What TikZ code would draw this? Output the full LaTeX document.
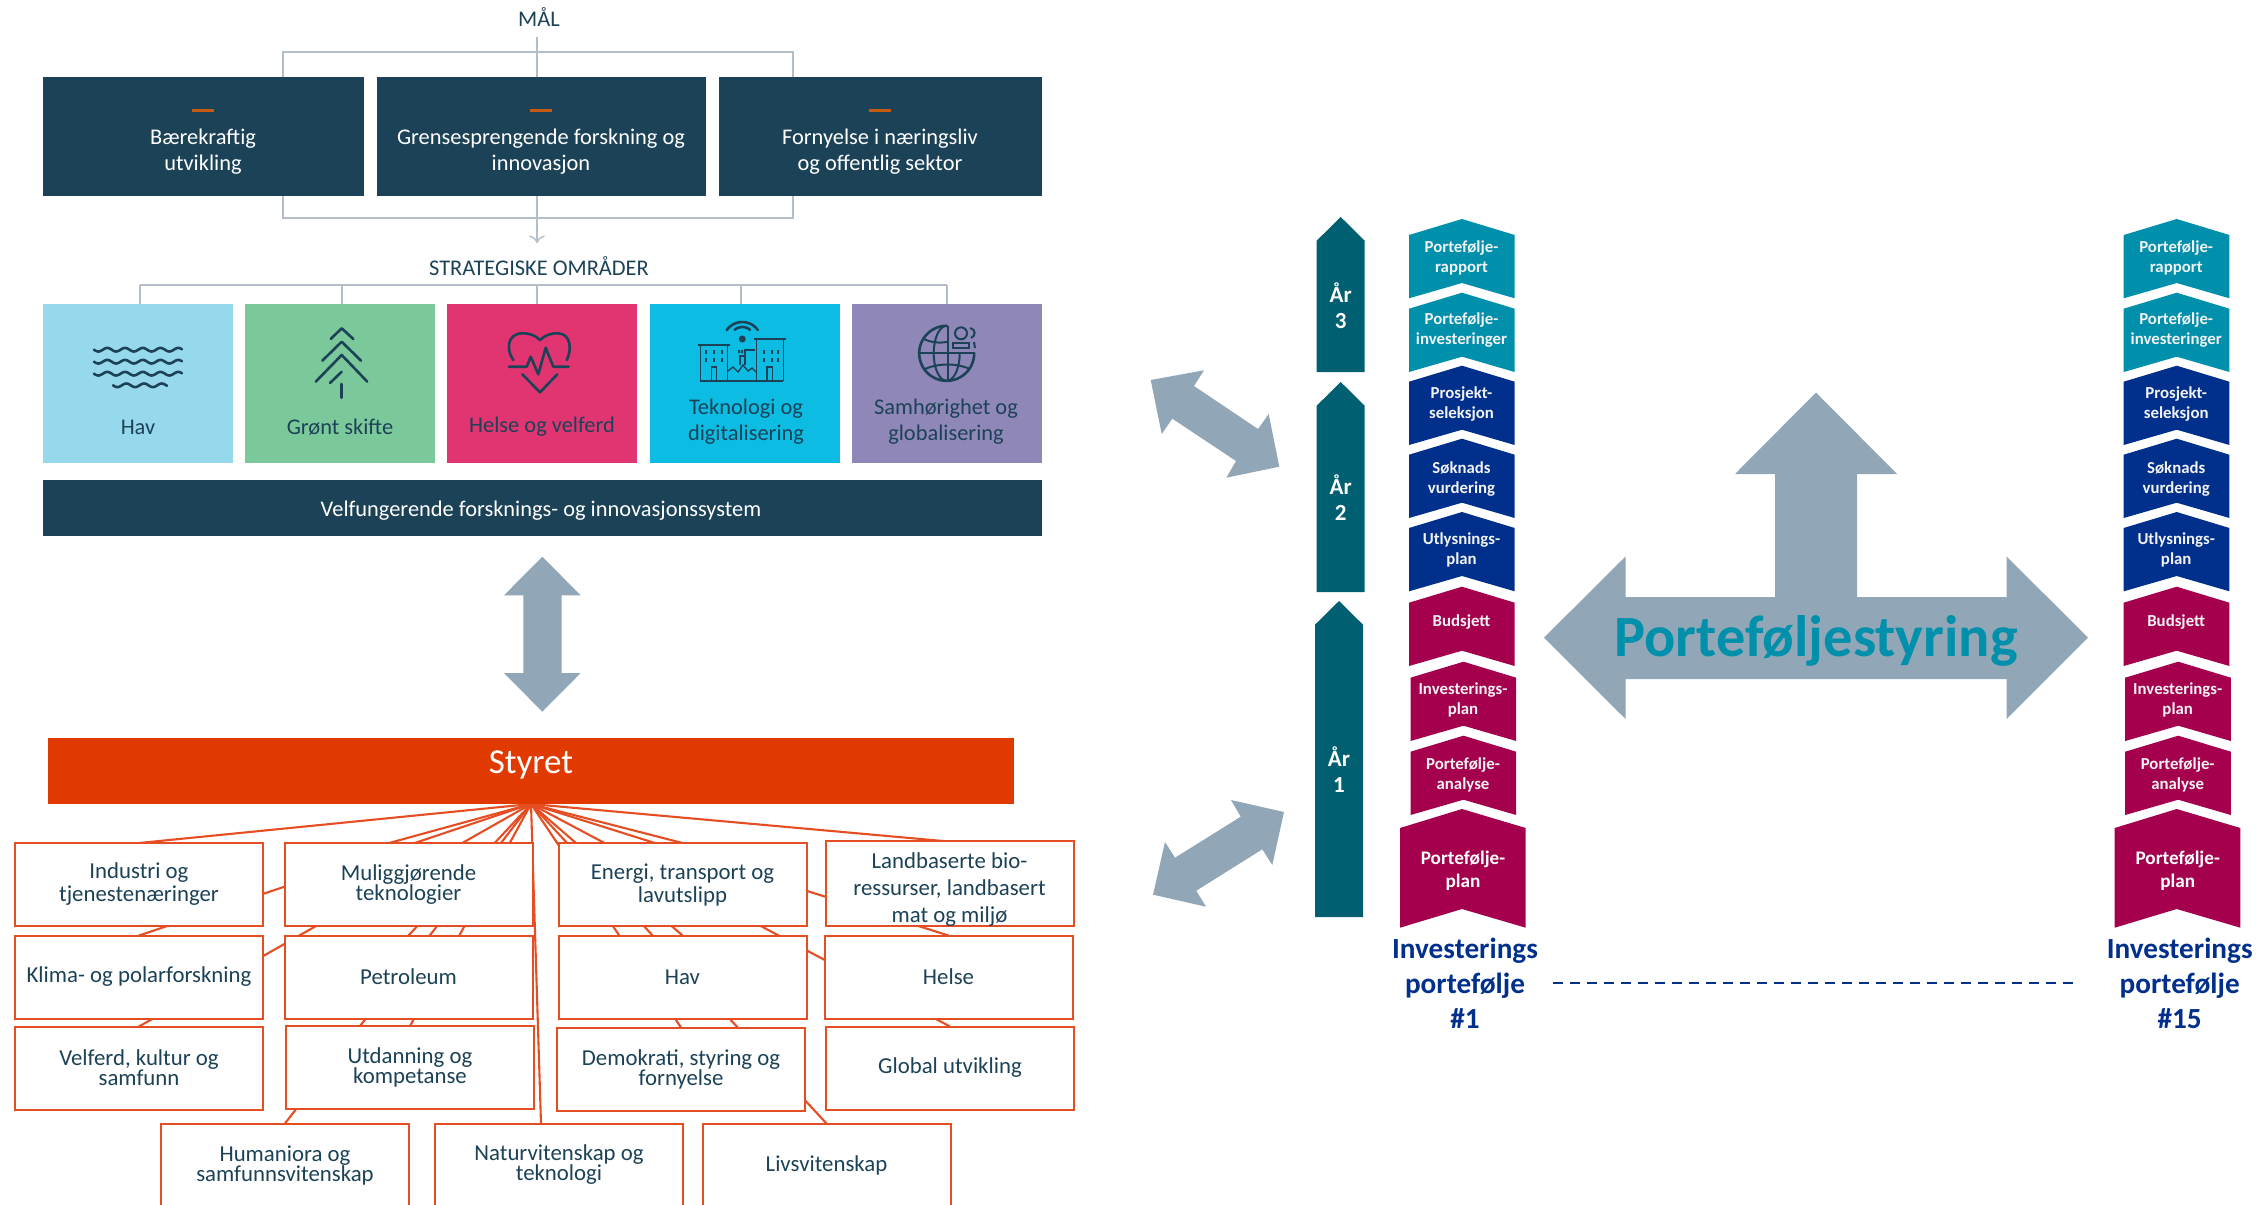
\documentclass[tikz,border=0pt]{standalone}
\usepackage{fontspec}
\setmainfont{Carlito}
\usetikzlibrary{arrows.meta,backgrounds}
\definecolor{deepblue}{HTML}{1C4257}
\definecolor{accent}{HTML}{C55A11}
\definecolor{bracket}{HTML}{B3BEC9}
\definecolor{bigarrow}{HTML}{91A7B7}
\definecolor{board}{HTML}{E03A00}
\definecolor{boardline}{HTML}{E54E22}
\definecolor{yearteal}{HTML}{005F70}
\definecolor{foldteal}{HTML}{0090AB}
\definecolor{foldnavy}{HTML}{00308C}
\definecolor{foldred}{HTML}{A5004E}
\newcommand\tipscale{1.2}
\newcommand\folderdx{714.7}
\tikzset{
    bodyfont/.style={font=\fontsize{11.2}{13.3}\selectfont},
    goalbox/.style={fill=deepblue,minimum height=59.75pt,inner sep=0pt,outer sep=0pt},
    goaltext/.style={bodyfont,text=white,align=center},
    areabox/.style={minimum width=95pt,minimum height=79.5pt,inner sep=0pt,outer sep=0pt},
    areatext/.style={bodyfont,text=deepblue,align=center},
    headtext/.style={font=\fontsize{11.2}{13}\selectfont,text=deepblue},
    connline/.style={draw=bracket,line width=0.7pt},
    orgbox/.style={draw=boardline,fill=white,line width=1pt,minimum width=124pt,minimum height=41.5pt,
      inner sep=0pt,outer sep=0pt,text=deepblue,align=center,font=\fontsize{11.4}{10}\selectfont},
    fanline/.style={draw=boardline,line width=1.05pt},
    yeartext/.style={font=\bfseries\fontsize{11.5}{13}\selectfont,text=white,align=center},
    foldertext/.style={font=\bfseries\fontsize{8.4}{10}\selectfont,text=white!90!gray,align=center},
    plantext/.style={font=\bfseries\fontsize{9.6}{11.5}\selectfont,text=white,align=center},
    porttext/.style={font=\bfseries\fontsize{14.6}{17.5}\selectfont,text=foldnavy,align=center},
    iconline/.style={draw=deepblue,line width=1.3pt,line cap=round,line join=round},
    iconthin/.style={draw=deepblue,line width=0.7pt},
}
\begin{document}
\begin{tikzpicture}[x=0.5pt,y=-0.5pt]
    \useasboundingbox (0,0) rectangle (2266,1205);

    \node[headtext] (mal) at (539,17) {MÅL};
    \node[goalbox,minimum width=160.5pt] (g1) at (203.5,136.7) {};
    \node[goalbox,minimum width=164.5pt] (g2) at (541.5,136.7) {};
    \node[goalbox,minimum width=161.5pt] (g3) at (880.5,136.7) {};
    \node[goaltext] (g1text) at (203,151.5) {Bærekraftig\\utvikling};
    \node[goaltext] (g2text) at (541,151.5) {Grensesprengende forskning og\\innovasjon};
    \node[goaltext] (g3text) at (880,151.5) {Fornyelse i næringsliv\\og offentlig sektor};
    \foreach \x in {203,541,880}
      \draw[accent,line width=1.3pt] (\x-11,110.7) -- (\x+11,110.7);

    \coordinate (stemtop) at (537,37);
    \coordinate (barleft) at (283,52);
    \coordinate (barright) at (793,52);
    \coordinate (lowleft) at (283,218);
    \coordinate (lowright) at (793,218);
    \coordinate (stemend) at (537,243);
    \draw[connline] (g1.north -| barleft) -- (barleft) -- (barright) -- (g3.north -| barright);
    \draw[connline] (stemtop) -- (g2.north -| stemtop);
    \draw[connline] (g1.south -| lowleft) -- (lowleft) -- (lowright) -- (g3.south -| lowright);
    \draw[connline,-{>[scale=\tipscale]}] (g2.south -| stemend) -- (stemend);

    \node[headtext] (omr) at (539,266) {STRATEGISKE OMRÅDER};
    \node[areabox,fill={rgb,255:red,151;green,217;blue,236}] (a1) at (138,383) {};
    \node[areabox,fill={rgb,255:red,123;green,200;blue,154}] (a2) at (340,383) {};
    \node[areabox,fill={rgb,255:red,224;green,53;blue,112}] (a3) at (542,383) {};
    \node[areabox,fill={rgb,255:red,13;green,188;blue,226}] (a4) at (745,383) {};
    \node[areabox,fill={rgb,255:red,143;green,135;blue,184}] (a5) at (947,383) {};
    \node[areatext] (a1text) at (138,427) {Hav};
    \node[areatext] (a2text) at (340,427) {Grønt skifte};
    \node[areatext] (a3text) at (542,427) {Helse og velferd};
    \node[areatext] (a4text) at (746,421.5) {Teknologi og\\digitalisering};
    \node[areatext] (a5text) at (946,421.5) {Samhørighet og\\globalisering};
    \draw[connline] (140,285) -- (947,285);
    \foreach \n/\x in {a1/140,a2/342,a3/537,a4/741,a5/947}
      \draw[connline] (\x,285) -- (\n.north -| \x,0);

    \node[goalbox,minimum width=499.5pt,minimum height=28pt] (system) at (542.5,508) {};
    \node[goaltext] (systemtext) at (541,510.5) {Velfungerende forsknings- og innovasjonssystem};

    % waves
    \foreach \yw in {349.7,361.7,373.7}
      \draw[iconline] plot[domain=94:182,samples=70] (\x,{\yw+1.8*sin(20.3*(\x-94))});
    \draw[iconline] plot[domain=113:167,samples=50] (\x,{385.3+1.8*sin(20.3*(\x-113))});
    % tree
    \draw[iconline] (330.7,339) -- (341.7,328.3) -- (353.3,339);
    \draw[iconline] (322.3,360.7) -- (341.7,341.7) -- (361,360.7);
    \draw[iconline] (315.7,381.7) -- (341.7,355) -- (367.3,381.7);
    \draw[iconline] (330,383) -- (341.7,371.7);
    \draw[iconline] (341.7,384) -- (341.7,397.7);
    % heart
    \draw[iconline] (513.3,360) .. controls (506,350) and (507,334) .. (521.7,333.3)
      .. controls (530,333) and (536,336) .. (540,340)
      .. controls (544,336) and (550,333) .. (558.3,333.3)
      .. controls (571,334) and (572,350) .. (566.7,360);
    \draw[iconline] (509,366.7) -- (526.7,366.7) -- (530.7,356.7) -- (538.3,374.3)
      -- (545.7,347.7) -- (553.3,366.7) -- (568.5,366.7);
    \draw[iconline] (522.3,374.3) -- (540,392.3) -- (557.3,374.3);
    % buildings
    \draw[iconthin,line width=1pt] (698.3,345) -- (730,345);
    \draw[iconthin,line width=1pt] (754,339.3) -- (785.7,339.3);
    \draw[iconthin,line width=1pt] (700,381) -- (783.3,381);
    \draw[iconthin] (700.7,345) -- (700.7,381) (727.7,345) -- (727.7,381);
    \draw[iconthin] (756.7,339.3) -- (756.7,381) (783.3,339.3) -- (783.3,381);
    \draw[iconthin] (711.5,381) -- (711.5,367) -- (716.7,367) -- (716.7,381);
    \draw[iconthin] (767,381) -- (767,367) -- (772.5,367) -- (772.5,381);
    \draw[iconthin] (728,371) -- (733,367) -- (738,372) -- (743,365) -- (748,371) -- (752,368) -- (756,372);
    \draw[iconthin] (740,365) -- (740,356) -- (746,356) (745,365) -- (745,350) -- (755,350);
    \foreach \wx in {706,714,722,764,772,778}
      \foreach \wy in {352,360}
        \fill[deepblue] (\wx-1,\wy-2) rectangle (\wx+1,\wy+2);
    \fill[deepblue] (738,350) rectangle (740,353) (741,350) rectangle (743,353);
    \fill[deepblue] (742.3,339) circle (3.5);
    \draw[iconline] plot[domain=50:130,samples=12] ({742.3+12*cos(\x)},{339-12*sin(\x)});
    \draw[iconline] plot[domain=35:145,samples=14] ({742.3+19*cos(\x)},{341-19*sin(\x)});
    % globe
    \draw[iconline] plot[domain=90:360,samples=50] ({946.7+27.5*cos(\x)},{353.3-27.5*sin(\x)});
    \draw[iconthin,line width=1pt] (919,353.3) -- (975,353.3) (947.5,326) -- (947.5,381);
    \draw[iconthin,line width=1pt] plot[domain=-90:90,samples=24] ({946.7-13*cos(\x)},{353.3+27.5*sin(\x)});
    \draw[iconthin,line width=1pt] plot[domain=0:90,samples=12] ({946.7+13*cos(\x)},{353.3+27.5*sin(\x)});
    \draw[iconthin,line width=1pt] (924,339) .. controls (932,343) and (940,343) .. (947,342);
    \draw[iconthin,line width=1pt] (925,369) .. controls (938,363) and (957,363) .. (970,369);
    \draw[iconthin,line width=1pt] (961,333.3) circle (6);
    \draw[iconthin,line width=1pt] (953.3,348.3) -- (953.3,343) -- (969.3,343) -- (969.3,348.3) -- cycle;
    \draw[iconthin,line width=1pt] (970,328) .. controls (976,329) and (976,336) .. (971,338);
    \draw[iconthin,line width=1pt] (974,342) -- (975,348);

    \fill[bigarrow] (542.3,556.7) -- (580.7,595.3) -- (561.7,595.3) -- (561.7,673) -- (580.7,673)
      -- (542.3,711.7) -- (504,673) -- (523.3,673) -- (523.3,595.3) -- (504,595.3) -- cycle;

    \node[fill=board,minimum width=483pt,minimum height=33pt,inner sep=0pt,outer sep=0pt] (styret) at (531,771) {};
    \node[font=\fontsize{17.5}{19}\selectfont,text=white] (styrettext) at (531,765) {Styret};

    \node[orgbox] (ind) at (139,884.5) {Industri og\\[1.5pt]tjenestenæringer};
    \node[orgbox] (mul) at (408.5,884.5) {Muliggjørende\\teknologier};
    \node[orgbox] (ene) at (682.5,884.5) {Energi, transport og\\[1.5pt]lavutslipp};
    \node[orgbox] (lan) at (949.5,883.5) {\rule{0pt}{13.5pt}Landbaserte bio-\\[3.5pt]ressurser, landbasert\\[3.5pt]mat og miljø};
    \node[orgbox] (kli) at (139,977) {Klima- og polarforskning};
    \node[orgbox] (pet) at (408.5,977) {Petroleum};
    \node[orgbox] (hav) at (682.5,977) {Hav};
    \node[orgbox] (hel) at (948.5,977) {Helse};
    \node[orgbox] (vel) at (139,1068) {Velferd, kultur og\\samfunn};
    \node[orgbox] (utd) at (410,1067.5) {Utdanning og\\kompetanse};
    \node[orgbox] (dem) at (681,1069) {Demokrati, styring og\\fornyelse};
    \node[orgbox] (glo) at (950,1068) {Global utvikling};
    \node[orgbox] (hum) at (285,1165) {Humaniora og\\samfunnsvitenskap};
    \node[orgbox] (nat) at (559,1165) {Naturvitenskap og\\teknologi};
    \node[orgbox] (liv) at (826.5,1165) {Livsvitenskap};

    \begin{scope}[on background layer]
      \foreach \n in {ind,ene,kli,pet,hav,hel,vel,utd,dem,glo,hum,liv}
        \draw[fanline] (styret.south) -- (\n.north);
      \draw[fanline] (styret.south) -- ([xshift=-9.7pt]mul.north);
      \draw[fanline] (styret.south) -- ([xshift=-3pt]lan.north);
      \draw[fanline] (styret.south) -- ([xshift=-9pt]nat.north);
    \end{scope}

    \fill[bigarrow] (1150.7,380) -- (1204,370.3) -- (1194,386) -- (1258,429) -- (1268.7,414)
      -- (1279.3,466.7) -- (1226.3,477.7) -- (1236,461) -- (1172.3,418.7) -- (1161.7,434) -- cycle;
    \fill[bigarrow] (1284,812) -- (1231,800) -- (1240.7,816.7) -- (1175,857.7) -- (1165,842)
      -- (1153,894.7) -- (1206,906.7) -- (1196.3,890.7) -- (1262.3,849.3) -- (1272.3,865) -- cycle;

    \foreach \yr/\lf/\tp/\bt/\ty in {3/1316.7/217/372/306,2/1316.7/382/592/498,1/1315/601/917/770} {
      \fill[yearteal] (\lf,\bt) -- (\lf,\tp+23.7) -- (\lf+24,\tp) -- (\lf+48,\tp+23.7) -- (\lf+48,\bt) -- cycle;
      \node[yeartext] (year\yr) at (\lf+24,\ty) {År\\\yr};
    }

    \foreach \col/\dx in {1/0,15/\folderdx} {
      \foreach \nm/\lf/\tp/\fc/\ty/\lab in {
          rapport/1409/219/foldteal/39/{Portefølje-\\rapport},
          invest/1409/292.7/foldteal/37.5/{Portefølje-\\investeringer},
          prosjekt/1409/365.7/foldnavy/38.5/{Prosjekt-\\seleksjon},
          soknad/1409/438.7/foldnavy/40/{Søknads\\vurdering},
          utlys/1409/512/foldnavy/38/{Utlysnings-\\plan},
          budsjett/1409/586.7/foldred/35/{Budsjett},
          invplan/1410.5/661.7/foldred/38/{Investerings-\\plan},
          analyse/1410.5/735.7/foldred/39/{Portefølje-\\analyse}} {
        \fill[\fc] (\lf+\dx,\tp+16) -- (\lf+\dx+53,\tp) -- (\lf+\dx+105.7,\tp+16) -- (\lf+\dx+105.7,\tp+79.3)
          -- (\lf+\dx+53,\tp+64) -- (\lf+\dx,\tp+79.3) -- cycle;
        \node[foldertext] (\nm\col) at (\lf+\dx+52.5,\tp+\ty) {\lab};
      }
      \fill[foldred] (1400+\dx,828) -- (1462+\dx,809) -- (1525.7+\dx,828) -- (1525.7+\dx,927.7)
        -- (1462+\dx,909) -- (1400+\dx,927.7) -- cycle;
      \node[plantext] (plan\col) at (1463+\dx,871) {Portefølje-\\plan};
      \node[porttext] (port\col) at (1465+\dx,983) {Investerings\\portefølje\\\#\col};
    }
    \draw[foldnavy,line width=1.1pt,dash pattern=on 5pt off 3.5pt,shorten <=4pt,shorten >=12.5pt] (port1.east) -- (port15.west);

    \fill[bigarrow] (1816,392.5) -- (1897,474) -- (1857,474) -- (1857,597) -- (2006.6,597) -- (2006.6,556.5)
      -- (2088,637.6) -- (2006.6,719) -- (2006.6,679) -- (1625.5,679) -- (1625.5,719) -- (1544,637.6)
      -- (1625.5,556.5) -- (1625.5,597) -- (1775,597) -- (1775,474) -- (1735,474) -- cycle;
    \node[font=\bfseries\fontsize{29.2}{32}\selectfont,text=foldteal] (styring) at (1816,641) {Porteføljestyring};
\end{tikzpicture}
\end{document}
